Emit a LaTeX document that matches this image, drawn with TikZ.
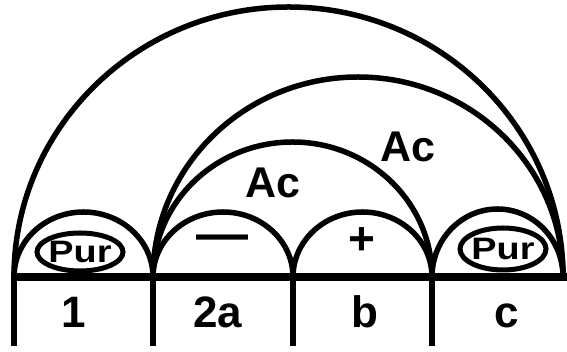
\documentclass[tikz,border=0pt]{standalone}
\usepackage{fontspec}
\setmainfont{Liberation Sans}
\begin{document}
\begin{tikzpicture}[x=1pt,y=1pt,
  arcline/.style={line width=5.5pt, line cap=round},
  baseline/.style={line width=8pt},
  divider/.style={line width=6pt},
  biglab/.style={font=\fontsize{43}{45}\selectfont\bfseries, inner sep=0pt},
  seglab/.style={font=\fontsize{44}{46}\selectfont\bfseries, inner sep=0pt, anchor=base},
  purlab/.style={font=\fontsize{31}{32}\selectfont\bfseries, inner sep=0pt, xscale=1.22}
]
\useasboundingbox (0,0) rectangle (567,352);
% baseline and dividers
\draw[baseline] (11,75) -- (567,75);
\foreach \x in {14,153,293,432} \draw[divider] (\x,77) -- (\x,6);
% small arcs
\draw[arcline] (14,75) arc[start angle=180, end angle=0, x radius=69.5, y radius=65];
\draw[arcline] (153,75) arc[start angle=180, end angle=0, x radius=70, y radius=65];
\draw[arcline] (293,75) arc[start angle=180, end angle=0, x radius=69.5, y radius=65];
\draw[arcline] (432,75) arc[start angle=180, end angle=0, x radius=65.5, y radius=68];
% large arcs
\draw[arcline] (153,75) arc[start angle=180, end angle=0, x radius=139.5, y radius=135];
\draw[arcline] (153,75) arc[start angle=180, end angle=0, x radius=205, y radius=200];
\draw[arcline] (14,75) arc[start angle=180, end angle=0, x radius=274.5, y radius=270];
% Pur ellipses
\draw[line width=5pt] (80,100) ellipse[x radius=43, y radius=19];
\draw[line width=5pt] (503,103) ellipse[x radius=43, y radius=21];
\node[purlab] (pur1) at (80,100) {Pur};
\node[purlab] (pur2) at (503,103) {Pur};
% signs
\node[font=\fontsize{52}{54}\selectfont\bfseries, inner sep=0pt] (minus) at (222,109) {—};
\node[font=\fontsize{46}{48}\selectfont\bfseries, inner sep=0pt] (plus) at (362,111) {+};
% Ac labels
\node[biglab] (ac1) at (273,169) {Ac};
\node[biglab] (ac2) at (408,205) {Ac};
% segment labels
\node[seglab] (l1) at (74,24) {1};
\node[seglab] (l2a) at (218,24) {2a};
\node[seglab] (lb) at (365,24) {b};
\node[seglab] (lc) at (507,24) {c};
\end{tikzpicture}
\end{document}
